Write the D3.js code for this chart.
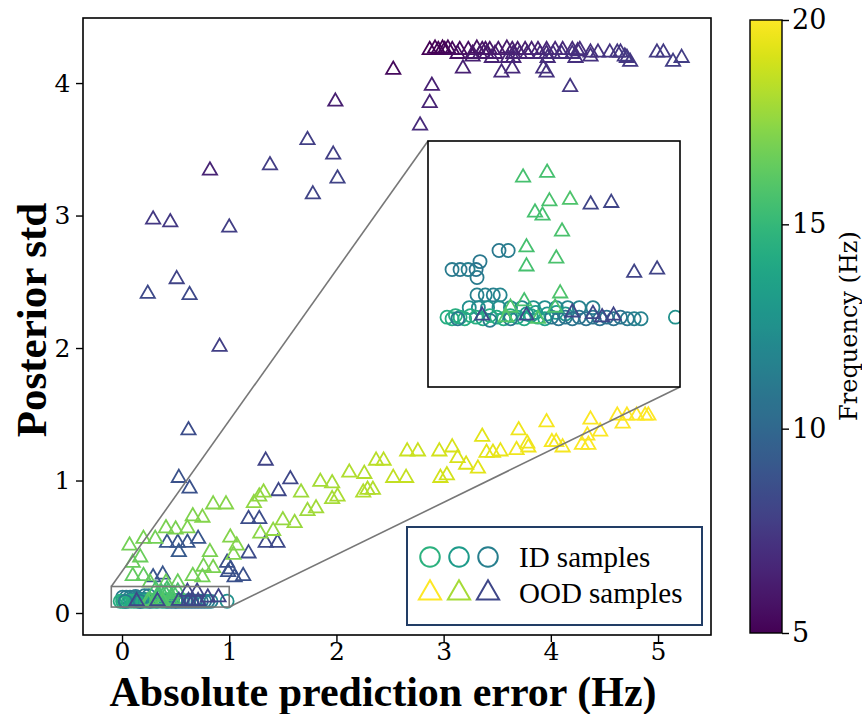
<!DOCTYPE html>
<html>
<head>
<meta charset="utf-8">
<script src="https://cdn.jsdelivr.net/npm/d3@7"></script>
<style>
  body { margin: 0; background: #fff; }
  svg { display: block; }
</style>
</head>
<body>
<svg id="chart" width="862" height="714"></svg>
<script>
var width = 862
var height = 714

// OOD samples: [abs error, posterior std, frequency]
// purple rows up at the top (low frequency)
const oodTop = [
  [2.53,4.10,5.4],[2.89,3.98,6.4],[2.87,3.85,6.5],[2.78,3.68,6.8],[3.18,4.11,6.4],
  [3.54,4.08,6.8],[3.64,4.11,6.8],[3.93,4.11,7.1],[3.96,4.08,7.2],[4.18,3.97,7.4],
  [3.45,4.19,6.5],[3.27,4.20,6.3],[4.37,4.20,7.2],[4.74,4.16,7.5],[4.71,4.19,7.4],
  [4.99,4.23,7.6],[5.05,4.23,7.6],[5.14,4.16,7.7],[5.22,4.19,7.7],
  [2.87,4.25,5.0],[2.92,4.26,5.0],[2.95,4.25,5.1],[2.99,4.26,5.0],[3.01,4.25,5.2],
  [3.04,4.26,5.2],[3.08,4.25,5.3],[3.15,4.25,5.4],[3.23,4.25,5.6],[3.31,4.26,5.7],
  [3.36,4.25,5.8],[3.39,4.25,5.8],[3.43,4.25,5.9],[3.51,4.25,6.0],[3.59,4.26,6.1],
  [3.64,4.25,6.2],[3.69,4.25,6.2],[3.76,4.25,6.3],[3.82,4.25,6.4],[3.88,4.25,6.5],
  [3.96,4.25,6.6],[4.04,4.25,6.7],[4.11,4.25,6.8],[4.20,4.25,6.9],[4.25,4.24,7.0],
  [4.27,4.25,7.0],[4.37,4.23,7.1],[4.44,4.23,7.2],[4.55,4.23,7.3],[4.62,4.23,7.4],
  [4.65,4.23,7.4],[4.69,4.20,7.5],
  [3.13,4.22,5.6],[3.27,4.22,5.9],[3.34,4.22,6.0],[3.40,4.22,6.0],[3.48,4.22,6.2],
  [3.65,4.22,6.4],[3.71,4.22,6.5],[3.78,4.22,6.6],[3.90,4.22,6.7],[3.96,4.22,6.8],
  [4.02,4.22,6.9],[4.10,4.22,7.0],[4.20,4.22,7.1],
  [3.60,4.19,6.5],[3.65,4.19,6.6],[3.97,4.19,6.9],[4.23,4.19,7.1]
]
// scattered blue-purple triangles between std 2 and 4
const oodMid = [
  [1.99,3.86,6.3],[1.73,3.57,7.8],[1.97,3.46,7.8],[2.01,3.28,8.0],[1.78,3.16,8.0],
  [1.38,3.38,7.7],[0.82,3.34,6.5],[0.29,2.97,7.5],[0.45,2.95,7.5],[1.00,2.91,7.8],
  [0.51,2.52,8.0],[0.24,2.41,8.3],[0.63,2.40,8.3],[0.91,2.01,7.8]
]
// navy triangles near the bottom
const oodNavy = [
  [0.62,1.38,8.5],[0.53,1.02,8.8],[0.63,0.94,8.8],[1.34,1.15,8.0],[1.57,1.01,8.2],
  [1.46,0.92,8.2],[1.18,0.71,8.5],[1.28,0.71,8.5],[1.34,0.53,8.3],[1.45,0.53,8.3],
  [1.18,0.45,8.4],[0.98,0.38,8.6],[0.42,0.53,9.0],[0.52,0.53,9.0],[0.61,0.53,9.0],
  [0.71,0.56,9.0],[0.53,0.46,9.2],[0.99,0.31,8.7],[1.13,0.28,8.7],[1.05,0.27,8.7],
  [1.01,0.33,8.8],[0.29,0.27,9.0],[0.38,0.29,9.0]
]
// green to yellow triangles along the rising band
const oodTrend = [
  [0.07,0.51,16.8],[0.20,0.56,16.9],[0.31,0.56,16.8],[0.17,0.42,16.6],[0.10,0.38,16.5],
  [0.10,0.28,16.4],[0.20,0.28,16.4],[0.41,0.64,17.0],[0.50,0.63,17.0],[0.61,0.64,17.1],
  [0.66,0.73,17.1],[0.75,0.72,17.2],[0.85,0.82,17.2],[0.97,0.82,17.3],[1.01,0.57,17.2],
  [1.07,0.51,17.2],[0.82,0.46,17.0],[0.76,0.35,16.9],[0.85,0.34,17.0],[1.04,0.44,17.1],
  [0.26,0.23,16.5],[0.41,0.23,16.6],[0.52,0.23,16.6],[0.66,0.28,16.8],[0.75,0.27,16.8],
  [1.23,0.83,17.5],[1.28,0.88,17.5],[1.32,0.91,17.6],[1.29,0.60,17.4],[1.41,0.62,17.5],
  [1.50,0.70,17.6],[1.61,0.68,17.7],[1.67,0.91,17.8],[1.73,0.77,17.8],[1.81,0.79,17.9],
  [1.85,0.99,18.0],[1.96,0.98,18.0],[1.96,0.86,18.0],[2.01,0.88,18.1],[2.12,1.06,18.2],
  [2.26,1.05,18.3],[2.25,0.91,18.2],[2.29,0.93,18.3],[2.34,0.93,18.3],[2.37,1.15,18.4],
  [2.44,1.15,18.5],
  [2.53,1.02,18.6],[2.65,1.02,18.7],[2.66,1.22,18.8],[2.76,1.22,18.8],[2.96,1.22,19.0],
  [3.08,1.25,19.1],[3.13,1.17,19.1],[2.97,1.02,19.0],[3.03,1.04,19.0],[3.21,1.12,19.2],
  [3.36,1.33,19.3],[3.32,1.09,19.3],[3.40,1.21,19.4],[3.46,1.21,19.4],[3.53,1.22,19.5],
  [3.70,1.38,19.6],[3.68,1.23,19.6],[3.78,1.28,19.6],[3.79,1.25,19.7],[3.96,1.44,19.8],
  [4.01,1.29,19.8],[4.05,1.29,19.8],[4.11,1.25,19.8],[4.37,1.46,19.9],[4.34,1.34,19.9],
  [4.46,1.37,19.9],[4.29,1.27,19.9],[4.35,1.27,19.9],[4.62,1.49,20.0],[4.67,1.43,20.0],
  [4.71,1.49,20.0],[4.80,1.49,20.0],[4.88,1.49,20.0],[4.91,1.49,20.0]
]
// triangles inside the zoomed box
const oodLow = [
  [0.315,0.177,15.6],[0.42,0.180,15.6],[0.43,0.162,15.7],[0.52,0.163,15.8],[0.367,0.155,15.6],
  [0.40,0.153,15.6],[0.485,0.143,15.7],[0.33,0.133,15.6],[0.46,0.126,15.7],[0.33,0.121,15.6],
  [0.477,0.104,15.8],[0.32,0.099,15.6],[0.455,0.095,15.7],[0.26,0.095,15.8],[0.24,0.089,16.0],
  [0.38,0.088,15.9],
  [0.61,0.160,8.1],[0.70,0.161,8.1],[0.80,0.117,8.0],[0.90,0.119,8.0],[0.136,0.090,8.2],
  [0.33,0.090,8.3],[0.53,0.092,8.2],[0.71,0.090,8.1],[0.62,0.091,8.3],[0.66,0.089,8.2]
]
// ID samples: [abs error, posterior std, frequency]
const idPoints = [
  [0.005,0.119,11.2],[0.04,0.119,11.0],[0.075,0.119,11.4],[0.11,0.119,10.8],[0.127,0.124,11.0],
  [0.114,0.114,11.2],[0.21,0.131,11.0],[0.25,0.131,11.3],
  [0.114,0.103,11.5],[0.15,0.103,11.6],[0.185,0.103,11.4],[0.215,0.103,11.8],
  [0.08,0.095,12.4],[0.12,0.095,12.2],[0.16,0.095,12.5],[0.21,0.095,12.3],[0.26,0.095,12.4],
  [0.31,0.095,12.2],[0.36,0.095,12.5],[0.41,0.095,12.3],[0.46,0.095,12.0],[0.51,0.095,11.8],
  [0.56,0.095,11.6],[0.62,0.095,11.5],
  [-0.017,0.089,14.3],[0.005,0.088,14.2],[0.02,0.090,14.4],[0.04,0.089,14.1],[0.06,0.088,14.3],
  [0.085,0.090,14.2],[0.11,0.089,14.4],[0.14,0.088,14.0],[0.17,0.090,14.3],[0.20,0.089,14.2],
  [0.23,0.088,14.1],[0.26,0.090,14.3],[0.29,0.089,13.9],[0.32,0.088,14.0],[0.35,0.090,13.8],
  [0.38,0.089,13.9],[0.41,0.088,13.6],
  [0.03,0.088,11.0],[0.17,0.087,11.2],[0.26,0.088,10.9],
  [0.33,0.091,13.0],[0.37,0.092,13.1],[0.42,0.091,12.9],[0.46,0.092,13.0],[0.50,0.091,12.8],
  [0.44,0.089,10.9],[0.47,0.088,10.8],[0.50,0.089,10.9],[0.53,0.088,10.7],[0.56,0.089,10.8],
  [0.59,0.088,10.6],[0.62,0.089,10.7],[0.65,0.088,10.6],[0.68,0.089,10.5],[0.71,0.088,10.6],
  [0.74,0.089,10.7],[0.77,0.088,11.0],[0.80,0.088,11.4],[0.83,0.088,11.6],
  [0.98,0.089,12.5]
]

const xTicks = [0, 1, 2, 3, 4, 5]
const yTicks = [0, 1, 2, 3, 4]
const cbTicks = [5, 10, 15, 20]
const freqRange = [5, 20]
const insetX = [-0.1, 1.0]
const insetY = [0.045, 0.2]

const ood = oodTop.concat(oodMid, oodNavy, oodTrend, oodLow)

const svg = d3.select("svg#chart")
const color = d3.scaleSequential(d3.interpolateViridis).domain(freqRange)

// main axes box
const x = d3.scaleLinear().domain([-0.364, 5.494]).range([83, 711])
const y = d3.scaleLinear().domain([-0.166, 4.491]).range([635, 18])

const tri = d3.symbol().type(d3.symbolTriangle).size(88)
const circ = d3.symbol().type(d3.symbolCircle).size(135)

function drawPoints(g, sx, sy) {
  g.append("g").selectAll("path")
    .data(idPoints)
    .enter().append("path")
      .attr("d", circ)
      .attr("transform", d => `translate(${sx(d[0])},${sy(d[1])})`)
      .attr("fill", "none")
      .attr("stroke", d => color(d[2]))
      .attr("stroke-width", 1.8)
  g.append("g").selectAll("path")
    .data(ood)
    .enter().append("path")
      .attr("d", tri)
      .attr("transform", d => `translate(${sx(d[0])},${sy(d[1])})`)
      .attr("fill", "none")
      .attr("stroke", d => color(d[2]))
      .attr("stroke-width", 1.8)
}

drawPoints(svg.append("g"), x, y)

const tickFont = 25
const xAxis = svg.append("g")
    .attr("transform", "translate(0,635)")
    .call(d3.axisBottom(x).tickValues(xTicks).tickSize(7).tickSizeOuter(0).tickFormat(d3.format("d")))
const yAxis = svg.append("g")
    .attr("transform", "translate(83,0)")
    .call(d3.axisLeft(y).tickValues(yTicks).tickSize(7).tickSizeOuter(0).tickFormat(d3.format("d")))
for (const a of [xAxis, yAxis]) {
  a.select(".domain").remove()
  a.selectAll("line").attr("stroke", "#000").attr("stroke-width", 1.4)
  a.selectAll("text").attr("font-family", "DejaVu Serif").attr("font-size", tickFont).attr("fill", "#000")
}
xAxis.selectAll("text").attr("dy", "0.58em")
yAxis.selectAll("text").attr("dx", "-0.1em")

svg.append("rect")
    .attr("x", 83).attr("y", 18).attr("width", 628).attr("height", 617)
    .attr("fill", "none").attr("stroke", "#000").attr("stroke-width", 1.6)

// zoom box + connectors
const rx0 = x(insetX[0]), rx1 = x(insetX[1]), ry0 = y(insetY[1]), ry1 = y(insetY[0])
const ibox = {x0: 428, x1: 680, y0: 141, y1: 387}
svg.append("rect")
    .attr("x", rx0).attr("y", ry0).attr("width", rx1 - rx0).attr("height", ry1 - ry0)
    .attr("fill", "none").attr("stroke", "#777").attr("stroke-width", 1.6)
svg.append("line")
    .attr("x1", rx0).attr("y1", ry0).attr("x2", ibox.x0).attr("y2", ibox.y0)
    .attr("stroke", "#777").attr("stroke-width", 1.6)
svg.append("line")
    .attr("x1", rx1).attr("y1", ry1).attr("x2", ibox.x1).attr("y2", ibox.y1)
    .attr("stroke", "#777").attr("stroke-width", 1.6)

// inset
const xi = d3.scaleLinear().domain(insetX).range([ibox.x0, ibox.x1])
const yi = d3.scaleLinear().domain(insetY).range([ibox.y1, ibox.y0])
svg.append("clipPath").attr("id", "insetClip")
  .append("rect")
    .attr("x", ibox.x0).attr("y", ibox.y0)
    .attr("width", ibox.x1 - ibox.x0).attr("height", ibox.y1 - ibox.y0)
svg.append("rect")
    .attr("x", ibox.x0).attr("y", ibox.y0)
    .attr("width", ibox.x1 - ibox.x0).attr("height", ibox.y1 - ibox.y0)
    .attr("fill", "#fff")
drawPoints(svg.append("g").attr("clip-path", "url(#insetClip)"), xi, yi)
svg.append("rect")
    .attr("x", ibox.x0).attr("y", ibox.y0)
    .attr("width", ibox.x1 - ibox.x0).attr("height", ibox.y1 - ibox.y0)
    .attr("fill", "none").attr("stroke", "#000").attr("stroke-width", 1.6)

// legend
const leg = svg.append("g")
leg.append("rect")
    .attr("x", 407).attr("y", 527).attr("width", 295).attr("height", 98)
    .attr("fill", "#fff").attr("stroke", "#223d66").attr("stroke-width", 2)
const legRows = [
  {label: "ID samples", shape: d3.symbolCircle, size: 300, freqs: [14.6, 13.2, 11.4], y: 557},
  {label: "OOD samples", shape: d3.symbolTriangle, size: 215, freqs: [20, 18, 8.2], y: 593}
]
legRows.forEach(r => {
  r.freqs.forEach((f, i) => {
    leg.append("path")
        .attr("d", d3.symbol().type(r.shape).size(r.size))
        .attr("transform", `translate(${430 + i * 29},${r.y})`)
        .attr("fill", "none").attr("stroke", color(f)).attr("stroke-width", 2)
  })
  leg.append("text")
      .attr("x", 519).attr("y", r.y + 10)
      .attr("font-family", "Liberation Serif").attr("font-size", 29)
      .text(r.label)
})

// axis titles
svg.append("text")
    .attr("x", 383).attr("y", 706)
    .attr("text-anchor", "middle")
    .attr("font-family", "Liberation Serif").attr("font-weight", "bold").attr("font-size", 42)
    .text("Absolute prediction error (Hz)")
svg.append("text")
    .attr("transform", "translate(46,320) rotate(-90)")
    .attr("text-anchor", "middle")
    .attr("font-family", "Liberation Serif").attr("font-weight", "bold").attr("font-size", 43)
    .text("Posterior std")

// colorbar
const cb = {x: 750, w: 32, y0: 20, y1: 633}
const cy = d3.scaleLinear().domain(freqRange).range([cb.y1, cb.y0])
const grad = svg.append("defs").append("linearGradient")
    .attr("id", "cbGrad").attr("x1", 0).attr("y1", 1).attr("x2", 0).attr("y2", 0)
d3.range(0, 1.0001, 0.02).forEach(t => {
  grad.append("stop").attr("offset", t).attr("stop-color", d3.interpolateViridis(t))
})
svg.append("rect")
    .attr("x", cb.x).attr("y", cb.y0).attr("width", cb.w).attr("height", cb.y1 - cb.y0)
    .attr("fill", "url(#cbGrad)").attr("stroke", "#000").attr("stroke-width", 1.4)
const cbAxis = svg.append("g")
    .attr("transform", `translate(${cb.x + cb.w},0)`)
    .call(d3.axisRight(cy).tickValues(cbTicks).tickSize(7).tickSizeOuter(0))
cbAxis.select(".domain").remove()
cbAxis.selectAll("line").attr("stroke", "#000").attr("stroke-width", 1.4)
cbAxis.selectAll("text").attr("font-family", "DejaVu Serif").attr("font-size", 27).attr("fill", "#000")
svg.append("text")
    .attr("transform", "translate(857,326) rotate(-90)")
    .attr("text-anchor", "middle")
    .attr("font-family", "DejaVu Serif").attr("font-size", 24)
    .text("Frequency (Hz)")
</script>
</body>
</html>
